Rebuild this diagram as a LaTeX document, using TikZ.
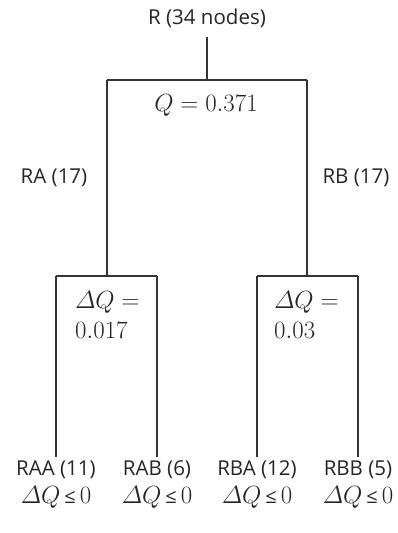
\documentclass[tikz,border=0pt]{standalone}
\usepackage{amsmath}
\usepackage{fontspec}
\setmainfont{Open Sans}
\newcommand{\dqle}{$\varDelta Q$\hspace{4pt}{\fontsize{20}{22}\selectfont ≤}\hspace{4pt}$0$}
\begin{document}
\begin{tikzpicture}[x=1pt,y=-1pt,
  lab/.style={inner sep=0pt, font=\fontsize{20.5}{24}\selectfont, text=black!85},
  mth/.style={inner sep=0pt, font=\fontsize{24}{28}\selectfont, text=black!85},
  edge/.style={draw=black!80, line width=1.1pt}]
\useasboundingbox (0,0) rectangle (397,533);
\node[lab] (R) at (207,18) {R (34 nodes)};
\coordinate (Rb) at (207,37);
\coordinate (Rj) at (207,80);
\coordinate (Aj) at (107,80);
\coordinate (Bj) at (307,80);
\coordinate (A) at (107,276);
\coordinate (B) at (307,276);
\coordinate (AAt) at (56,276);
\coordinate (ABt) at (157,276);
\coordinate (BAt) at (257,276);
\coordinate (BBt) at (358,276);
\coordinate (AAb) at (56,457);
\coordinate (ABb) at (157,457);
\coordinate (BAb) at (257,457);
\coordinate (BBb) at (358,457);
\draw[edge] (Rb) -- (Rj);
\draw[edge] (Aj) -- (Bj);
\draw[edge] (Aj) -- (A);
\draw[edge] (Bj) -- (B);
\draw[edge] (AAt) -- (ABt);
\draw[edge] (BAt) -- (BBt);
\draw[edge] (AAt) -- (AAb);
\draw[edge] (ABt) -- (ABb);
\draw[edge] (BAt) -- (BAb);
\draw[edge] (BBt) -- (BBb);
\node[mth] (Q) at (206,105) {$Q=0.371$};
\node[lab] (RA) at (54,178) {RA (17)};
\node[lab] (RB) at (356,178) {RB (17)};
\node[mth, anchor=west] (dA1) at (75,302) {$\varDelta Q=$};
\node[mth, anchor=west] (dA2) at (75,330) {$0.017$};
\node[mth, anchor=west] (dB1) at (274,302) {$\varDelta Q=$};
\node[mth, anchor=west] (dB2) at (274,330) {$0.03$};
\node[lab] (RAA) at (56,470) {RAA (11)};
\node[lab] (RAB) at (157,470) {RAB (6)};
\node[lab] (RBA) at (257,470) {RBA (12)};
\node[lab] (RBB) at (358,470) {RBB (5)};
\node[mth] (qAA) at (56,497) {\dqle};
\node[mth] (qAB) at (157,497) {\dqle};
\node[mth] (qBA) at (257,497) {\dqle};
\node[mth] (qBB) at (358,497) {\dqle};
\end{tikzpicture}
\end{document}
